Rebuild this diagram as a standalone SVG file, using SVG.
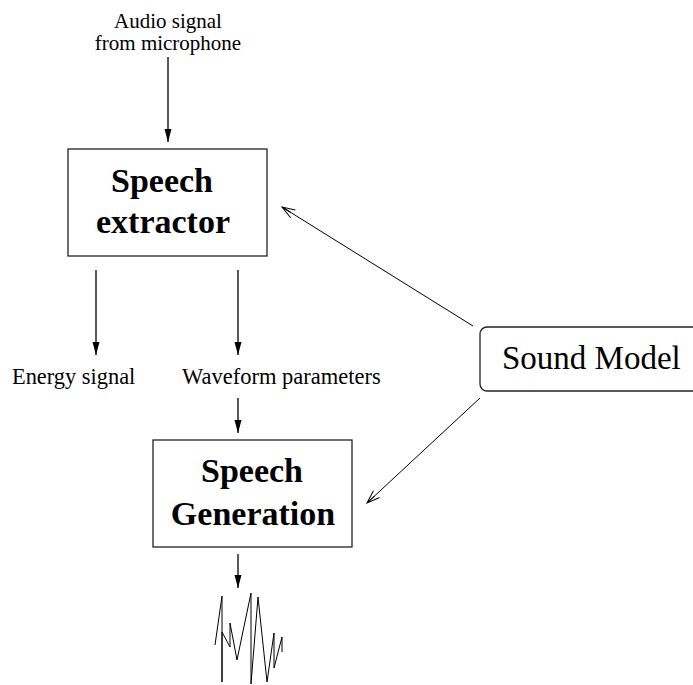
<svg xmlns="http://www.w3.org/2000/svg" width="693" height="685" viewBox="0 0 693 685">
<style>
.t{font-family:"Liberation Serif","Times New Roman",serif;fill:#000}
.b{font-family:"Liberation Serif","Times New Roman",serif;font-weight:bold;font-size:34px;fill:#000;text-anchor:middle}
.box{fill:#fff;stroke:#222;stroke-width:1.3}
.ln{fill:none;stroke:#000;stroke-width:1.3}
.ln2{fill:none;stroke:#000;stroke-width:1}
</style>
<defs>
<marker id="fa" markerWidth="14" markerHeight="8" refX="13" refY="3.5" orient="auto" markerUnits="userSpaceOnUse">
<path d="M0,0 L13,3.5 L0,7 Z" fill="#000"/>
</marker>
<marker id="oa" markerWidth="16" markerHeight="12" refX="14" refY="5" orient="auto" markerUnits="userSpaceOnUse">
<path d="M1,0.5 L14,5 L1,9.5 M4,5 L14,5" fill="none" stroke="#000" stroke-width="1"/>
</marker>
</defs>
<rect width="693" height="685" fill="#fff"/>
<g id="connectors">
<line class="ln" x1="168" y1="57" x2="168" y2="142" marker-end="url(#fa)"/>
<line class="ln" x1="96" y1="270" x2="96" y2="355" marker-end="url(#fa)"/>
<line class="ln" x1="238" y1="270" x2="238" y2="355" marker-end="url(#fa)"/>
<line class="ln" x1="238" y1="398" x2="238" y2="433" marker-end="url(#fa)"/>
<line class="ln" x1="238" y1="554" x2="238" y2="588" marker-end="url(#fa)"/>
<line class="ln2" x1="473" y1="326" x2="282" y2="207" marker-end="url(#oa)"/>
<line class="ln2" x1="480" y1="398" x2="367" y2="503" marker-end="url(#oa)"/>
</g>
<g id="audio-label">
<text class="t" font-size="21" x="168" y="28" text-anchor="middle">Audio signal</text>
<text class="t" font-size="21" x="168" y="50" text-anchor="middle">from microphone</text>
</g>
<g id="speech-extractor">
<rect class="box" x="68" y="149" width="199" height="107"/>
<text class="b" x="162" y="192">Speech</text>
<text class="b" x="163" y="233">extractor</text>
</g>
<g id="energy-signal">
<text class="t" font-size="22.4" x="12" y="384">Energy signal</text>
</g>
<g id="waveform-parameters">
<text class="t" font-size="22.5" x="182" y="384">Waveform parameters</text>
</g>
<g id="speech-generation">
<rect class="box" x="153" y="440" width="199" height="107"/>
<text class="b" x="252" y="482">Speech</text>
<text class="b" x="253" y="525" font-size="33">Generation</text>
</g>
<g id="sound-model">
<rect class="box" x="480" y="327" width="225" height="64" rx="7" ry="7"/>
<text class="t" font-size="33" x="502" y="369">Sound Model</text>
</g>
<g id="waveform">
<polyline class="ln2" points="215,645 222,596 222,682 222,632 230,647 230,623 237,660 251,593 251,684 258,597 267,682 274,633 274,668 282,637 282,652"/>
</g>
</svg>
